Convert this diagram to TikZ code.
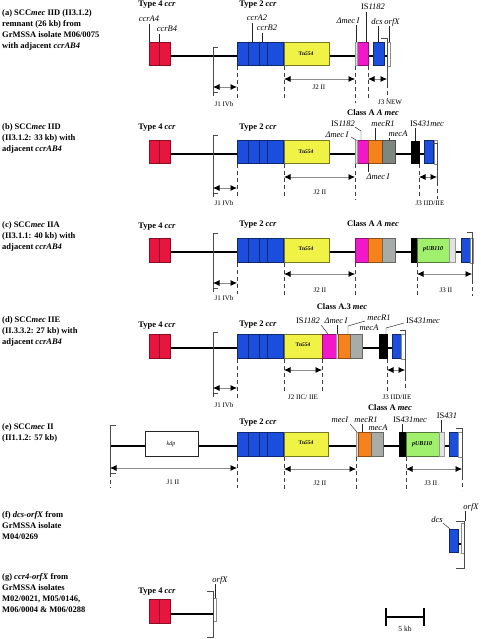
\documentclass[tikz,border=0pt]{standalone}
\usepackage{fontspec}
\setmainfont{Liberation Serif}
\usetikzlibrary{arrows.meta}
\definecolor{cred}{RGB}{232,22,62}
\definecolor{cblue}{RGB}{28,78,222}
\definecolor{cyel}{RGB}{240,242,70}
\definecolor{cmag}{RGB}{240,24,200}
\definecolor{corg}{RGB}{246,130,30}
\definecolor{cgrn}{RGB}{125,135,125}
\definecolor{cgry}{RGB}{168,172,168}
\definecolor{clgr}{RGB}{226,226,226}
\definecolor{cpub}{RGB}{160,240,110}
\newcommand\gbx[5]{\path[#1] (#2,#4) rectangle (#3,#5);}
\newcommand\ccrfour[2]{\gbx{redg}{149}{170}{#1}{#2}\draw[cred!60!black,line width=0.4pt] (159,#1)--(159,#2);}
\newcommand\ccrtwo[2]{\gbx{blueg}{237}{283}{#1}{#2}\draw[cblue!50!black,line width=0.4pt] (248,#1)--(248,#2) (259,#1)--(259,#2) (267,#1)--(267,#2);}
\begin{document}
\begin{tikzpicture}[x=1pt,y=-1pt,
 bbl/.style={line width=1.6pt, black},
 gene/.style={line width=0.4pt},
 redg/.style={gene, fill=cred, draw=cred!60!black},
 blueg/.style={gene, fill=cblue, draw=cblue!50!black},
 yelg/.style={gene, fill=cyel, draw=cyel!50!black},
 magg/.style={gene, fill=cmag, draw=cmag!60!black},
 orgg/.style={gene, fill=corg, draw=corg!60!black},
 grng/.style={gene, fill=cgrn, draw=cgrn!60!black},
 gryg/.style={gene, fill=cgry, draw=cgry!60!black},
 lgrg/.style={gene, fill=clgr, draw=black!40},
 pubg/.style={gene, fill=cpub, draw=cpub!50!black},
 blkg/.style={gene, fill=black, draw=black},
 whtg/.style={gene, fill=white, draw=black!45},
 kdpg/.style={line width=0.6pt, fill=white, draw=black!85},
 lead/.style={line width=0.45pt, black!85},
 dsh/.style={line width=0.6pt, black!75, dash pattern=on 4pt off 3pt},
 brk/.style={line width=0.6pt, black!70},
 jarr/.style={line width=0.7pt, black!45, {Latex[length=6.5pt,width=6pt,black]}-{Latex[length=6.5pt,width=6pt,black]}},
 lab/.style={font=\fontsize{8.5}{10}\selectfont\itshape, inner sep=0pt},
 hd/.style={font=\fontsize{8.5}{10}\selectfont\bfseries, inner sep=0pt},
 jl/.style={font=\fontsize{7}{8}\selectfont, inner sep=0pt},
 tnl/.style={font=\fontsize{5.5}{6}\selectfont\bfseries, inner sep=0pt},
 publ/.style={font=\fontsize{6}{7}\selectfont\bfseries\itshape, inner sep=0pt},
 desc/.style={font=\fontsize{8.5}{11.2}\selectfont\bfseries, align=left, anchor=north west, inner sep=0pt},
]
\useasboundingbox (0,0) rectangle (480,639);
\fill[white] (0,0) rectangle (480,639);

% ================= Row (a) =================
\node[desc] (da) at (2,9) {(a) SCC\textit{mec} IID (II3.1.2)\\remnant (26 kb) from\\GrMSSA isolate M06/0075\\with adjacent \textit{ccrAB4}};
\draw[bbl] (170,56) -- (387,56);
\ccrfour{42}{65}
\ccrtwo{42}{65}
\gbx{yelg}{284}{329}{42}{65}
\node[tnl] (tna) at (306,53.5) {Tn\textit{554}};
\gbx{magg}{355}{368}{42}{65}
\gbx{lgrg}{355}{357}{42}{65}
\gbx{blueg}{373}{384}{42}{65}
\gbx{whtg}{387}{390}{42}{66}
\node[hd] (t4a) at (157,5) {Type 4 \textit{ccr}};
\node[hd] (t2a) at (258,5) {Type 2 \textit{ccr}};
\node[lab] (ccrA4) at (149,19) {ccrA4};
\node[lab] (ccrB4) at (167,29) {ccrB4};
\node[lab] (ccrA2) at (257,18) {ccrA2};
\node[lab] (ccrB2) at (267,28) {ccrB2};
\node[lab] (dma) at (348,21) {Δmec\,I};
\node[lab] (isa) at (373,7) {\upshape IS\itshape 1182};
\node[lab] (dcsa) at (377,22) {dcs};
\node[lab] (orfa) at (392,22) {orfX};
\draw[lead] (149,24) -- (149,42);
\draw[lead] (159,34) -- (159,42);
\draw[lead] (252,23) -- (252,42);
\draw[lead] (262,33) -- (262,42);
\draw[lead] (356,25) -- (356,42);
\draw[lead] (366,12) -- (366,42);
\draw[lead] (378,26) -- (378,42);
\draw[lead] (389,26) -- (389,42);
\draw[brk] (218,47) -- (213,47) -- (213,92) -- (218,92);
\draw[dsh] (213,92) -- (213,99);
\draw[brk] (381,38) -- (387,38) -- (387,84);
\draw[dsh] (387,84) -- (387,99);
\draw[dsh] (237,66) -- (237,99);
\draw[dsh] (284,66) -- (284,99);
\draw[dsh] (355,66) -- (355,103);
\draw[dsh] (368,66) -- (368,99);
\draw[jarr] (213,87) -- (237,87);
\draw[jarr] (284,79) -- (355,79);
\draw[jarr] (368,79) -- (387,79);
\node[jl] (j1a) at (224,104) {J1 IVb};
\node[jl] (j2a) at (319,87) {J2 II};
\node[jl] (j3a) at (390,102) {J3 NEW};

% ================= Row (b) =================
\node[desc] (db) at (2,123) {(b) SCC\textit{mec} IID\\(II3.1.2: 33 kb) with\\adjacent \textit{ccrAB4}};
\draw[bbl] (170,154) -- (437,154);
\ccrfour{140}{163}
\ccrtwo{140}{163}
\gbx{yelg}{284}{329}{140}{163}
\node[tnl] (tnb) at (306,151.5) {Tn\textit{554}};
\gbx{magg}{355}{368}{140}{163}
\gbx{lgrg}{355}{357}{140}{163}
\gbx{orgg}{368}{382}{140}{163}
\gbx{grng}{382}{395}{140}{163}
\gbx{blkg}{411}{419}{141}{163}
\gbx{blueg}{424}{433}{140}{163}
\gbx{whtg}{434}{437}{140}{164}
\node[hd] (t4b) at (157,128) {Type 4 \textit{ccr}};
\node[hd] (t2b) at (258,128) {Type 2 \textit{ccr}};
\node[hd] (clb) at (373,113) {Class A \textit{A mec}};
\node[lab] (isb) at (343,124) {\upshape IS\itshape 1182};
\node[lab] (dmb) at (337,135) {Δmec\,I};
\node[lab] (mrb) at (383,124) {mecR1};
\node[lab] (mab) at (398,134) {mecA};
\node[lab] (i4b) at (427,124) {\upshape IS\itshape 431mec};
\node[lab] (dmb2) at (378,177) {Δmec\,I};
\draw[lead] (355,127) -- (361,131) -- (361,140);
\draw[lead] (351,137) -- (356,140);
\draw[lead] (375,128) -- (375,140);
\draw[lead] (389,138) -- (389,140);
\draw[lead] (415,128) -- (415,141);
\draw[lead] (368,163) -- (368,172);
\draw[brk] (218,135) -- (213,135) -- (213,193) -- (218,193);
\draw[dsh] (213,193) -- (213,198);
\draw[brk] (432,143) -- (437,143) -- (437,182);
\draw[dsh] (437,182) -- (437,199);
\draw[dsh] (237,164) -- (237,198);
\draw[dsh] (284,164) -- (284,198);
\draw[dsh] (355,164) -- (355,200);
\draw[dsh] (419,164) -- (419,198);
\draw[jarr] (213,188) -- (237,188);
\draw[jarr] (284,177) -- (355,177);
\draw[jarr] (419,177) -- (437,177);
\node[jl] (j1b) at (224,203) {J1 IVb};
\node[jl] (j2b) at (320,192) {J2 II};
\node[jl] (j3b) at (430,203) {J3 IID/IIE};

% ================= Row (c) =================
\node[desc] (dc) at (2,221) {(c) SCC\textit{mec} IIA\\(II3.1.1: 40 kb) with\\adjacent \textit{ccrAB4}};
\draw[bbl] (170,252) -- (473,252);
\ccrfour{238}{262}
\ccrtwo{238}{262}
\gbx{yelg}{284}{329}{238}{262}
\node[tnl] (tnc) at (306,249) {Tn\textit{554}};
\gbx{magg}{355}{368}{238}{262}
\gbx{orgg}{368}{382}{238}{262}
\gbx{gryg}{382}{395}{238}{262}
\gbx{blkg}{411}{417}{238}{262}
\gbx{pubg}{417}{449}{238}{262}
\node[publ] (pubc) at (433,249) {pUB110};
\gbx{lgrg}{449}{455}{238}{262}
\gbx{blueg}{461}{470}{238}{262}
\gbx{whtg}{470}{473}{238}{263}
\node[hd] (t4c) at (157,227) {Type 4 \textit{ccr}};
\node[hd] (t2c) at (258,225) {Type 2 \textit{ccr}};
\node[hd] (clc) at (373,224) {Class A \textit{A mec}};
\draw[brk] (218,233) -- (213,233) -- (213,288) -- (218,288);
\draw[dsh] (213,288) -- (213,294);
\draw[brk] (467,232) -- (472,232) -- (472,280);
\draw[dsh] (472,280) -- (472,296);
\draw[dsh] (237,263) -- (237,294);
\draw[dsh] (284,263) -- (284,296);
\draw[dsh] (355,263) -- (355,297);
\draw[dsh] (417,263) -- (417,296);
\draw[jarr] (213,283) -- (237,283);
\draw[jarr] (284,274) -- (355,274);
\draw[jarr] (417,274) -- (472,274);
\node[jl] (j1c) at (224,298) {J1 IVb};
\node[jl] (j2c) at (320,290) {J2 II};
\node[jl] (j3c) at (446,290) {J3 II};

% ================= Row (d) =================
\node[desc] (dd) at (2,316) {(d) SCC\textit{mec} IIE\\(II.3.3.2: 27 kb) with\\adjacent \textit{ccrAB4}};
\draw[bbl] (170,348) -- (405,348);
\ccrfour{334}{358}
\ccrtwo{334}{358}
\gbx{yelg}{284}{322}{334}{358}
\node[tnl] (tnd) at (303,345) {Tn\textit{554}};
\gbx{magg}{322}{336}{334}{358}
\gbx{lgrg}{336}{338}{334}{358}
\gbx{orgg}{338}{350}{334}{358}
\gbx{gryg}{350}{362}{334}{358}
\gbx{blkg}{379}{387}{334}{358}
\gbx{blueg}{392}{401}{334}{358}
\gbx{whtg}{401}{405}{334}{359}
\node[hd] (t4d) at (157,326) {Type 4 \textit{ccr}};
\node[hd] (t2d) at (258,325) {Type 2 \textit{ccr}};
\node[hd] (cld) at (342,307) {Class A.3 \textit{mec}};
\node[lab] (isd) at (308,321) {\upshape IS\itshape 1182};
\node[lab] (dmd) at (336,321) {Δmec\,I};
\node[lab] (mrd) at (379,318) {mecR1};
\node[lab] (mad) at (369,328) {mecA};
\node[lab] (i4d) at (423,321) {\upshape IS\itshape 431mec};
\draw[lead] (321,325) -- (328,334);
\draw[lead] (337,325) -- (337,334);
\draw[lead] (365,321) -- (348,326) -- (348,334);
\draw[lead] (404,323) -- (386,328) -- (386,334);
\draw[brk] (218,332) -- (213,332) -- (213,393) -- (218,393);
\draw[dsh] (213,393) -- (213,399);
\draw[brk] (400,330) -- (405,330) -- (405,377);
\draw[dsh] (405,377) -- (405,391);
\draw[dsh] (237,359) -- (237,399);
\draw[dsh] (284,359) -- (284,392);
\draw[dsh] (322,359) -- (322,392);
\draw[dsh] (387,359) -- (387,391);
\draw[jarr] (213,388) -- (237,388);
\draw[jarr] (284,370) -- (322,370);
\draw[jarr] (387,370) -- (405,370);
\node[jl] (j1d) at (224,405) {J1 IVb};
\node[jl] (j2d) at (303,397) {J2 IIC/ IIE};
\node[jl] (j3d) at (397,397) {J3 IID/IIE};

% ================= Row (e) =================
\node[desc] (de) at (2,423) {(e) SCC\textit{mec} II\\(II1.1.2: 57 kb)};
\draw[bbl] (110,446) -- (462,446);
\path[kdpg] (145,431) rectangle (198,456);
\node[font=\fontsize{6}{7}\selectfont\itshape, inner sep=0pt] (kdp) at (171,444) {kdp};
\ccrtwo{432}{456}
\gbx{yelg}{284}{328}{432}{456}
\node[tnl] (tne) at (306,443) {Tn\textit{554}};
\gbx{lgrg}{356}{358}{432}{456}
\gbx{orgg}{358}{371}{432}{456}
\gbx{gryg}{371}{383}{432}{456}
\gbx{blkg}{399}{406}{432}{456}
\gbx{pubg}{406}{439}{432}{456}
\node[publ] (pube) at (422,444) {pUB110};
\gbx{lgrg}{439}{444}{432}{456}
\gbx{blueg}{449}{458}{432}{456}
\gbx{whtg}{458}{462}{432}{457}
\node[hd] (t2e) at (258,423) {Type 2 \textit{ccr}};
\node[hd] (cle) at (390,408) {Class A \textit{mec}};
\node[lab] (mie) at (340,420) {mecI};
\node[lab] (mre) at (366,420) {mecR1};
\node[lab] (mae) at (378,428) {mecA};
\node[lab] (i4e) at (410,420) {\upshape IS\itshape 431mec};
\node[lab] (i5e) at (447,416) {\upshape IS\itshape 431};
\draw[lead] (350,424) -- (357,432);
\draw[lead] (362,424) -- (362,432);
\draw[lead] (402,424) -- (402,432);
\draw[lead] (441,420) -- (441,432);
\draw[brk] (116,425) -- (110,425) -- (110,473) -- (116,473);
\draw[dsh] (110,473) -- (110,488);
\draw[brk] (456,428) -- (462,428) -- (462,476);
\draw[dsh] (462,476) -- (462,490);
\draw[dsh] (237,457) -- (237,488);
\draw[dsh] (284,457) -- (284,490);
\draw[dsh] (356,457) -- (356,490);
\draw[dsh] (406,457) -- (406,490);
\draw[jarr] (110,468) -- (237,468);
\draw[jarr] (284,469) -- (356,469);
\draw[jarr] (406,469) -- (462,469);
\node[jl] (j1e) at (173,482) {J1 II};
\node[jl] (j2e) at (320,483) {J2 II};
\node[jl] (j3e) at (431,483) {J3 II};

% ================= Row (f) =================
\node[desc] (df) at (2,511) {(f) \textit{dcs-orfX} from\\GrMSSA isolate\\M04/0269};
\gbx{blueg}{449}{458}{529}{552}
\draw[bbl] (458,544) -- (462,544);
\gbx{whtg}{461}{464}{523}{553}
\draw[brk] (456,521) -- (464,521) -- (464,568) -- (456,568);
\node[lab] (orff) at (471,507) {orfX};
\node[lab] (dcsf) at (437,520) {dcs};
\draw[lead] (465,511) -- (465,521);
\draw[lead] (443,523) -- (450,529);

% ================= Row (g) =================
\node[desc] (dg) at (2,573) {(g) \textit{ccr4-orfX} from\\GrMSSA isolates\\M02/0021, M05/0146,\\M06/0004 \& M06/0288};
\draw[bbl] (170,614) -- (213,614);
\ccrfour{599}{623}
\gbx{whtg}{213}{216}{598}{621}
\draw[brk] (207,591) -- (213,591) -- (213,637) -- (207,637);
\node[hd] (t4g) at (157,592) {Type 4 \textit{ccr}};
\node[lab] (orfg) at (220,580) {orfX};
\draw[lead] (215,584) -- (215,598);

% ================= scale bar =================
\coordinate (sbl) at (386,617);
\coordinate (sbr) at (424,617);
\draw[line width=1.5pt] (sbl) -- (sbr);
\draw[line width=1.5pt] ([yshift=-9pt]sbl) -- ([yshift=9pt]sbl);
\draw[line width=1.5pt] ([yshift=-9pt]sbr) -- ([yshift=9pt]sbr);
\node[jl, font=\fontsize{7.5}{8}\selectfont] (sbt) at (405,629) {5 kb};
\end{tikzpicture}
\end{document}
